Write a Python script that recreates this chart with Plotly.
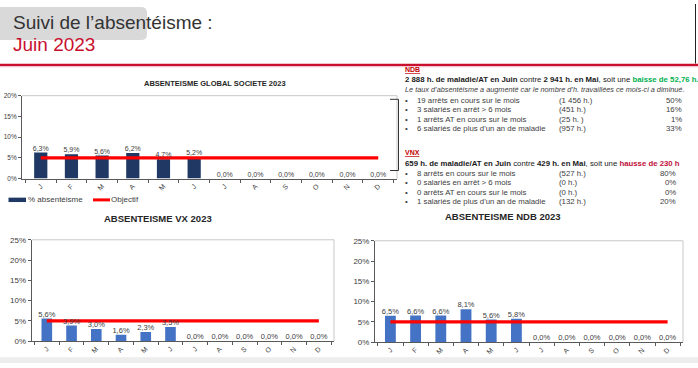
import plotly.graph_objects as go

W, H = 698, 368

months = ["Janv", "Févr", "Mars", "Avr", "Mai", "Juin", "Juil", "Août", "Sept", "Oct", "Nov", "Déc"]
month_letters = ["J", "F", "M", "A", "M", "J", "J", "A", "S", "O", "N", "D"]

global_values = [6.3, 5.9, 5.6, 6.2, 4.7, 5.2, 0, 0, 0, 0, 0, 0]
vx_values = [5.6, 3.9, 3.0, 1.6, 2.3, 3.5, 0, 0, 0, 0, 0, 0]
ndb_values = [6.5, 6.6, 6.6, 8.1, 5.6, 5.8, 0, 0, 0, 0, 0, 0]
objectif = [5] * 12

global_yticks = [0, 5, 10, 15, 20]
sub_yticks = [0, 5, 10, 15, 20, 25]

ndb_items = [
    ("19 arrêts en cours sur le mois", "(1 456 h.)", "50%"),
    ("3 salariés en arrêt > 6 mois", "(451 h.)", "16%"),
    ("1 arrêts AT en cours sur le mois", "(25 h. )", "1%"),
    ("6 salariés de plus d'un an de maladie", "(957 h.)", "33%"),
]
vnx_items = [
    ("8 arrêts en cours sur le mois", "(527 h.)", "80%"),
    ("0 salariés en arrêt > 6 mois", "(0 h.)", "0%"),
    ("0 arrêts AT en cours sur le mois", "(0 h.)", "0%"),
    ("1 salariés de plus d'un an de maladie", "(132 h.)", "20%"),
]

NAVY = "#1f3864"
BLUE = "#4472c4"
RED = "#ff0000"
DARK = "#404040"
FONT = "Liberation Sans, Arial, sans-serif"


def px(x):
    return x / W


def py(y):
    return 1 - y / H


def fmt(v):
    return f"{v:.1f}".replace(".", ",") + "%"


fig = go.Figure()

charts = [
    ("", "", global_values, NAVY, 7, (22, 397), (94, 179), global_yticks, 6.5),
    ("2", "2", vx_values, BLUE, 7.5, (31.7, 334), (241.7, 345.7), sub_yticks, 8),
    ("3", "3", ndb_values, BLUE, 7.5, (375, 683), (242.7, 346.7), sub_yticks, 8),
]

for xs, ys, vals, col, lsize, (x0, x1), (y0, y1), yt, tsize in charts:
    xa = "x" + xs
    ya = "y" + ys
    fig.add_trace(go.Bar(x=months, y=vals, marker_color=col, marker_line_width=0,
                         xaxis=xa, yaxis=ya, showlegend=False, hoverinfo="skip"))
    fig.add_trace(go.Scatter(x=months, y=objectif, mode="lines",
                             line=dict(color=RED, width=3.2),
                             xaxis=xa, yaxis=ya, showlegend=False, hoverinfo="skip"))
    fig.add_trace(go.Scatter(x=months, y=vals, mode="text", text=[fmt(v) for v in vals],
                             textposition="top center",
                             textfont=dict(size=lsize, color=DARK, family=FONT),
                             xaxis=xa, yaxis=ya, showlegend=False, hoverinfo="skip",
                             cliponaxis=False))
    fig.update_layout(**{
        "xaxis" + xs: dict(domain=[px(x0), px(x1)], anchor=ya, type="category",
                           tickvals=months, ticktext=month_letters, tickangle=-45,
                           ticks="outside", tickson="boundaries", ticklen=3,
                           tickcolor="#595959", showline=True, linecolor="#595959",
                           linewidth=1, showgrid=False,
                           tickfont=dict(size=7, color=DARK, family=FONT)),
        "yaxis" + ys: dict(domain=[py(y1), py(y0)], anchor=xa, range=[0, yt[-1]],
                           tickvals=yt, ticktext=[f"{v}%" for v in yt],
                           ticks="outside", ticklen=3,
                           tickcolor="#595959", showline=True, linecolor="#595959",
                           linewidth=1, showgrid=False, zeroline=False,
                           tickfont=dict(size=tsize, color=DARK, family=FONT)),
    })
    fig.add_shape(type="path",
                  path=f"M {px(x0)} {py(y0)} L {px(x1)} {py(y0)} L {px(x1)} {py(y1)}",
                  xref="paper", yref="paper", line=dict(color="#c8c8c8", width=1))

shapes = []
bx0, bx1, by0, by1, r = 0, 147, 3, 37, 6
rx, ry = r / W, r / H
path = (f"M {px(bx0)} {py(by0)} L {px(bx1) - rx} {py(by0)} Q {px(bx1)} {py(by0)} {px(bx1)} {py(by0) - ry} "
        f"L {px(bx1)} {py(by1) + ry} Q {px(bx1)} {py(by1)} {px(bx1) - rx} {py(by1)} "
        f"L {px(bx0)} {py(by1)} Z")
shapes.append(dict(type="path", path=path, xref="paper", yref="paper",
                   fillcolor="#d9d9d9", line=dict(width=0), layer="below"))
shapes.append(dict(type="line", x0=0, x1=1, y0=py(62.3), y1=py(62.3), xref="paper", yref="paper",
                   line=dict(color="#c8102e", width=2.2)))
shapes.append(dict(type="line", x0=0, x1=1, y0=py(64.3), y1=py(64.3), xref="paper", yref="paper",
                   line=dict(color="#f2b8c3", width=1)))
shapes.append(dict(type="line", x0=px(695.5), x1=px(695.5), y0=py(0), y1=py(61), xref="paper", yref="paper",
                   line=dict(color="#222222", width=1)))
shapes.append(dict(type="path",
                   path=f"M {px(390)} {py(97.7)} L {px(398.5)} {py(97.7)} L {px(398.5)} {py(170.7)} L {px(390)} {py(170.7)}",
                   xref="paper", yref="paper", line=dict(color="#333333", width=1)))
shapes.append(dict(type="rect", x0=0, x1=1, y0=0, y1=py(362), xref="paper", yref="paper",
                   fillcolor="#ededed", line=dict(width=0), layer="below"))
shapes.append(dict(type="rect", x0=px(8.5), x1=px(26), y0=py(203), y1=py(198.5), xref="paper", yref="paper",
                   fillcolor=NAVY, line=dict(width=0)))
shapes.append(dict(type="line", x0=px(93), x1=px(110), y0=py(200.8), y1=py(200.8), xref="paper", yref="paper",
                   line=dict(color=RED, width=3)))
for s in shapes:
    fig.add_shape(**s)

ann = []


def text(x, y, t, size, color="#262626", anchor="left", bold=False, family=FONT):
    if bold:
        t = f"<b>{t}</b>"
    ann.append(dict(x=px(x), y=py(y), xref="paper", yref="paper", text=t, showarrow=False,
                    xanchor=anchor, yanchor="middle", borderpad=0,
                    font=dict(size=size, color=color, family=family)))


text(12, 19, "Suivi de l’absentéisme :", 19, "#333333")
text(12, 41.5, "Juin 2023", 19, "#c8102e")

text(215, 82, "ABSENTEISME GLOBAL SOCIETE 2023", 7.5, "#262626", "center", True)
text(158, 219.5, "ABSENTEISME VX 2023", 9.5, "#262626", "center", True)
text(503, 217.5, "ABSENTEISME NDB 2023", 9.5, "#262626", "center", True)

text(27, 200.5, "% absentéisme", 8, DARK)
text(110, 200.5, "Objectif", 8, DARK)

RC = "#c00000"
BODY = 7.8
text(403.5, 67.5, "<u>NDB</u>", 7, RC, bold=True)
text(403.5, 77.5, "<b>2 888 h. de maladie/AT en Juin</b> contre <b>2 941 h. en Mai</b>, soit une "
     "<b><span style='color:#00b050'>baisse de 52,76 h.</span></b>", 7.8, "#1a1a1a")
text(403.5, 88, "<i>Le taux d’absentéisme a augmenté car le nombre d’h. travaillées ce mois-ci a diminué.</i>",
     7.3, "#404040")
for i, (a, b, c) in enumerate(ndb_items):
    yy = 98.5 + i * 9.8
    text(404, yy, "•", BODY, "#404040")
    text(416, yy, a, BODY, "#404040")
    text(558, yy, b, BODY, "#404040")
    text(683, yy, c, BODY, "#404040", anchor="right")

text(403.5, 152.5, "<u>VNX</u>", 7, RC, bold=True)
text(403.5, 163, "<b>659 h. de maladie/AT en Juin</b> contre <b>429 h. en Mai</b>, soit une "
     "<b><span style='color:#c0103a'>hausse de 230 h</span></b>", 7.8, "#1a1a1a")
for i, (a, b, c) in enumerate(vnx_items):
    yy = 173.3 + i * 9.8
    text(404, yy, "•", BODY, "#404040")
    text(416, yy, a, BODY, "#404040")
    text(558, yy, b, BODY, "#404040")
    text(677, yy, c, BODY, "#404040", anchor="right")

fig.update_layout(annotations=ann, width=W, height=H, margin=dict(l=0, r=0, t=0, b=0),
                  paper_bgcolor="white", plot_bgcolor="rgba(0,0,0,0)",
                  bargap=0.57, font=dict(family=FONT), showlegend=False)

fig.write_html("out.html", config={"displayModeBar": False},
               post_script="document.body.style.margin='0';document.body.style.overflow='hidden';")
